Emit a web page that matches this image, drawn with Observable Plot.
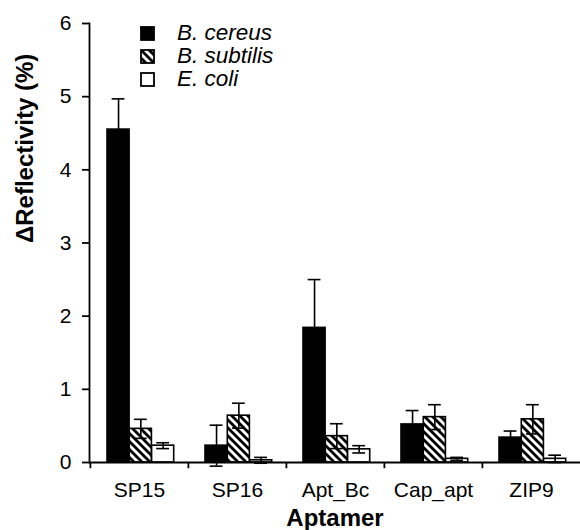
<!DOCTYPE html>
<html>
<head>
<meta charset="utf-8">
<script src="https://cdn.jsdelivr.net/npm/d3@7"></script>
<script src="https://cdn.jsdelivr.net/npm/@observablehq/plot@0.6"></script>
<style>
  body { margin: 0; background: #fff; font-family: "Liberation Sans", Arial, sans-serif; }
  #wrap { position: relative; width: 580px; height: 530px; }
  #legend { position: absolute; left: 140px; top: 22px; font-style: italic; font-size: 22.5px; color: #000; line-height: 1; }
  .row { display: flex; align-items: center; height: 23px; }
  .row svg { margin-right: 22px; flex: none; }
</style>
</head>
<body>
<div id="wrap">
  <div id="chart"></div>
  <div id="legend"></div>
</div>
<script>
const aptamers = ["SP15", "SP16", "Apt_Bc", "Cap_apt", "ZIP9"];
const species = ["B. cereus", "B. subtilis", "E. coli"];
const cereus = [4.55, 0.23, 1.84, 0.52, 0.34];
const cereusErr = [0.42, 0.28, 0.66, 0.19, 0.09];
const subtilis = [0.46, 0.64, 0.36, 0.62, 0.59];
const subtilisErr = [0.13, 0.17, 0.17, 0.17, 0.20];
const coli = [0.23, 0.03, 0.18, 0.05, 0.05];
const coliErr = [0.04, 0.04, 0.05, 0.02, 0.05];
const yTicks = [0, 1, 2, 3, 4, 5, 6];

const series = [cereus, subtilis, coli];
const errs = [cereusErr, subtilisErr, coliErr];
const fills = ["#000", "url(#hatch)", "#fff"];

const W = 580, H = 530, ML = 89, MR = 0, MT = 23, MB = 68;
const step = (W - ML - MR) / aptamers.length;
const groupStart = 17, barW = 22.3, capHalf = 6.5;

const marks = [];
species.forEach((sp, i) => {
  const rows = aptamers.map((a, j) => ({aptamer: a, species: sp, value: series[i][j], err: errs[i][j]}));
  const left = groupStart + i * barW;
  const center = left + barW / 2;
  marks.push(Plot.barY(rows, {
    x: "aptamer", y: "value", fill: fills[i], stroke: "#000", strokeWidth: 1.6,
    insetLeft: left, insetRight: step - left - barW
  }));
  marks.push(Plot.ruleX(rows, {
    x: "aptamer", y1: d => d.value - d.err, y2: d => d.value + d.err,
    dx: center - step / 2, stroke: "#000", strokeWidth: 1.6
  }));
  for (const sign of [1, -1]) {
    marks.push(Plot.tickY(rows, {
      x: "aptamer", y: d => d.value + sign * d.err,
      insetLeft: center - capHalf, insetRight: step - center - capHalf, stroke: "#000", strokeWidth: 1.6
    }));
  }
});

const plot = Plot.plot({
  width: W, height: H,
  marginLeft: ML, marginRight: MR, marginTop: MT, marginBottom: MB,
  style: {fontFamily: "'Liberation Sans', Arial, sans-serif", fontSize: "21px", color: "#000", background: "#fff"},
  x: {domain: aptamers, padding: 0},
  y: {domain: [0, 6]},
  marks: [
    ...marks,
    Plot.ruleY([0], {stroke: "#000", strokeWidth: 1.8}),
    Plot.frame({anchor: "left", stroke: "#000", strokeWidth: 1.8}),
    Plot.ruleX(aptamers, {x: d => d, dx: -step / 2, y1: 0, y2: -0.085, stroke: "#000", strokeWidth: 1.8}),
    Plot.axisY({ticks: yTicks, tickSize: 7, tickPadding: 11, tickFormat: d3.format("d"), label: null, fontSize: 21, strokeWidth: 1.8}),
    Plot.axisX({tickSize: 0, tickPadding: 20, label: null, fontSize: 21}),
    Plot.text(["ΔReflectivity (%)"], {text: d => d, frameAnchor: "left", rotate: -90, dx: -64, fontWeight: "bold", fontSize: 24}),
    Plot.text(["Aptamer"], {text: d => d, frameAnchor: "bottom", dy: 63, fontWeight: "bold", fontSize: 24})
  ]
});

const defs = `<defs><pattern id="hatch" patternUnits="userSpaceOnUse" width="8" height="8">
  <rect width="8" height="8" fill="#fff"/>
  <path d="M-2,-2 L10,10 M-2,6 L2,10 M6,-2 L10,2" stroke="#000" stroke-width="2.8"/>
</pattern></defs>`;
plot.insertAdjacentHTML("afterbegin", defs);
document.getElementById("chart").appendChild(plot);

const legend = d3.select("#legend");
species.forEach((sp, i) => {
  const row = legend.append("div").attr("class", "row");
  row.append("svg").attr("width", 15).attr("height", 15)
    .append("rect").attr("x", 1).attr("y", 1).attr("width", 13).attr("height", 13)
    .attr("fill", fills[i]).attr("stroke", "#000").attr("stroke-width", 1.8);
  row.append("span").text(sp);
});
</script>
</body>
</html>
